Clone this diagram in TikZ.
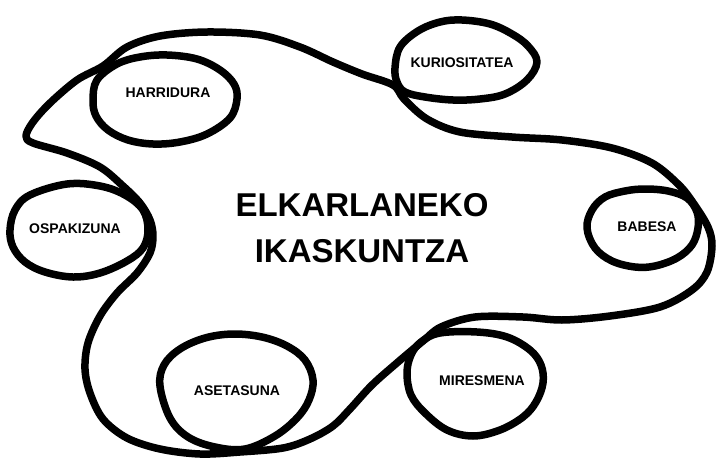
\documentclass[tikz,border=0pt]{standalone}
\usepackage{fontspec}
\setmainfont{Liberation Sans}
\begin{document}
\begin{tikzpicture}[x=1pt,y=-1pt,
  inkline/.style={draw=black,line width=7.5pt,line join=round},
  bubbletext/.style={inner sep=0pt,font=\fontsize{14}{16}\selectfont\bfseries,text=black}]
\useasboundingbox[fill=white] (0,0) rectangle (724,472);
% the big loop
\draw[inkline] plot[smooth cycle,tension=0.55] coordinates {
 (103,66) (127,47) (160,36) (207,32) (260,35) (300,47) (333,62) (362,74)
 (393,85) (404,99) (427,119) (460,132) (512,137) (562,140) (612,148)
 (652,163) (679,185) (694,204) (708,227) (712,246) (707,272) (692,290)
 (660,307) (610,316) (562,320) (523,317) (475,317) (441,327) (423,341)
 (398,362) (372,385) (350,409) (333,426) (310,439) (283,448)
 (240,452) (200,454) (160,449) (127,438) (103,419) (90,393) (85,369)
 (88,343) (100,316) (117,293) (137,273) (150,253) (153,236) (150,220)
 (140,203) (123,186) (100,167) (67,153) (33,143) (26,136) (33,122)
 (50,103) (77,80)};
% bubbles
\draw[inkline] plot[smooth cycle,tension=0.6] coordinates {
 (93,100) (97,80) (117,64) (140,57) (167,55) (197,59) (220,70) (234,84)
 (237,99) (230,118) (207,134) (180,142) (153,144) (128,140) (108,130) (96,116)};
\draw[inkline] plot[smooth cycle,tension=0.6] coordinates {
 (395,68) (400,47) (418,31) (440,22) (462,20) (490,24) (512,34) (528,46)
 (537,62) (527,80) (505,94) (480,99) (453,100) (425,97) (405,92) (397,82)};
\draw[inkline] plot[smooth cycle,tension=0.6] coordinates {
 (10,230) (15,210) (30,195) (67,184) (100,186) (125,195) (143,210) (148,230)
 (143,248) (127,261) (100,273) (73,277) (45,272) (25,262) (13,247)};
\draw[inkline] plot[smooth cycle,tension=0.6] coordinates {
 (587,228) (592,210) (605,197) (625,191) (645,189) (668,191) (687,198) (697,212)
 (698,228) (692,245) (677,258) (655,266) (635,267) (612,261) (595,248)};
\draw[inkline] plot[smooth cycle,tension=0.6] coordinates {
 (160,386) (164,365) (180,349) (205,338) (233,334) (262,337) (287,346) (305,360)
 (313,380) (309,400) (297,418) (275,436) (245,449) (215,447) (188,437) (170,418)};
\draw[inkline] plot[smooth cycle,tension=0.6] coordinates {
 (407,373) (411,355) (421,342) (440,333) (477,332) (507,337) (530,350) (541,365)
 (543,383) (536,402) (523,417) (500,430) (473,436) (447,430) (425,413) (411,395)};
% labels
\node[bubbletext] (harr) at (168,93) {HARRIDURA};
\node[bubbletext] (kur) at (462,63) {KURIOSITATEA};
\node[bubbletext] (osp) at (75,229) {OSPAKIZUNA};
\node[bubbletext] (bab) at (647,227) {BABESA};
\node[bubbletext] (ase) at (237,391) {ASETASUNA};
\node[bubbletext] (mir) at (482,381) {MIRESMENA};
% title
\node[align=center,font=\fontsize{33}{46}\selectfont\bfseries,inner sep=0pt] (title) at (362,228) {ELKARLANEKO\\IKASKUNTZA};
\end{tikzpicture}
\end{document}
